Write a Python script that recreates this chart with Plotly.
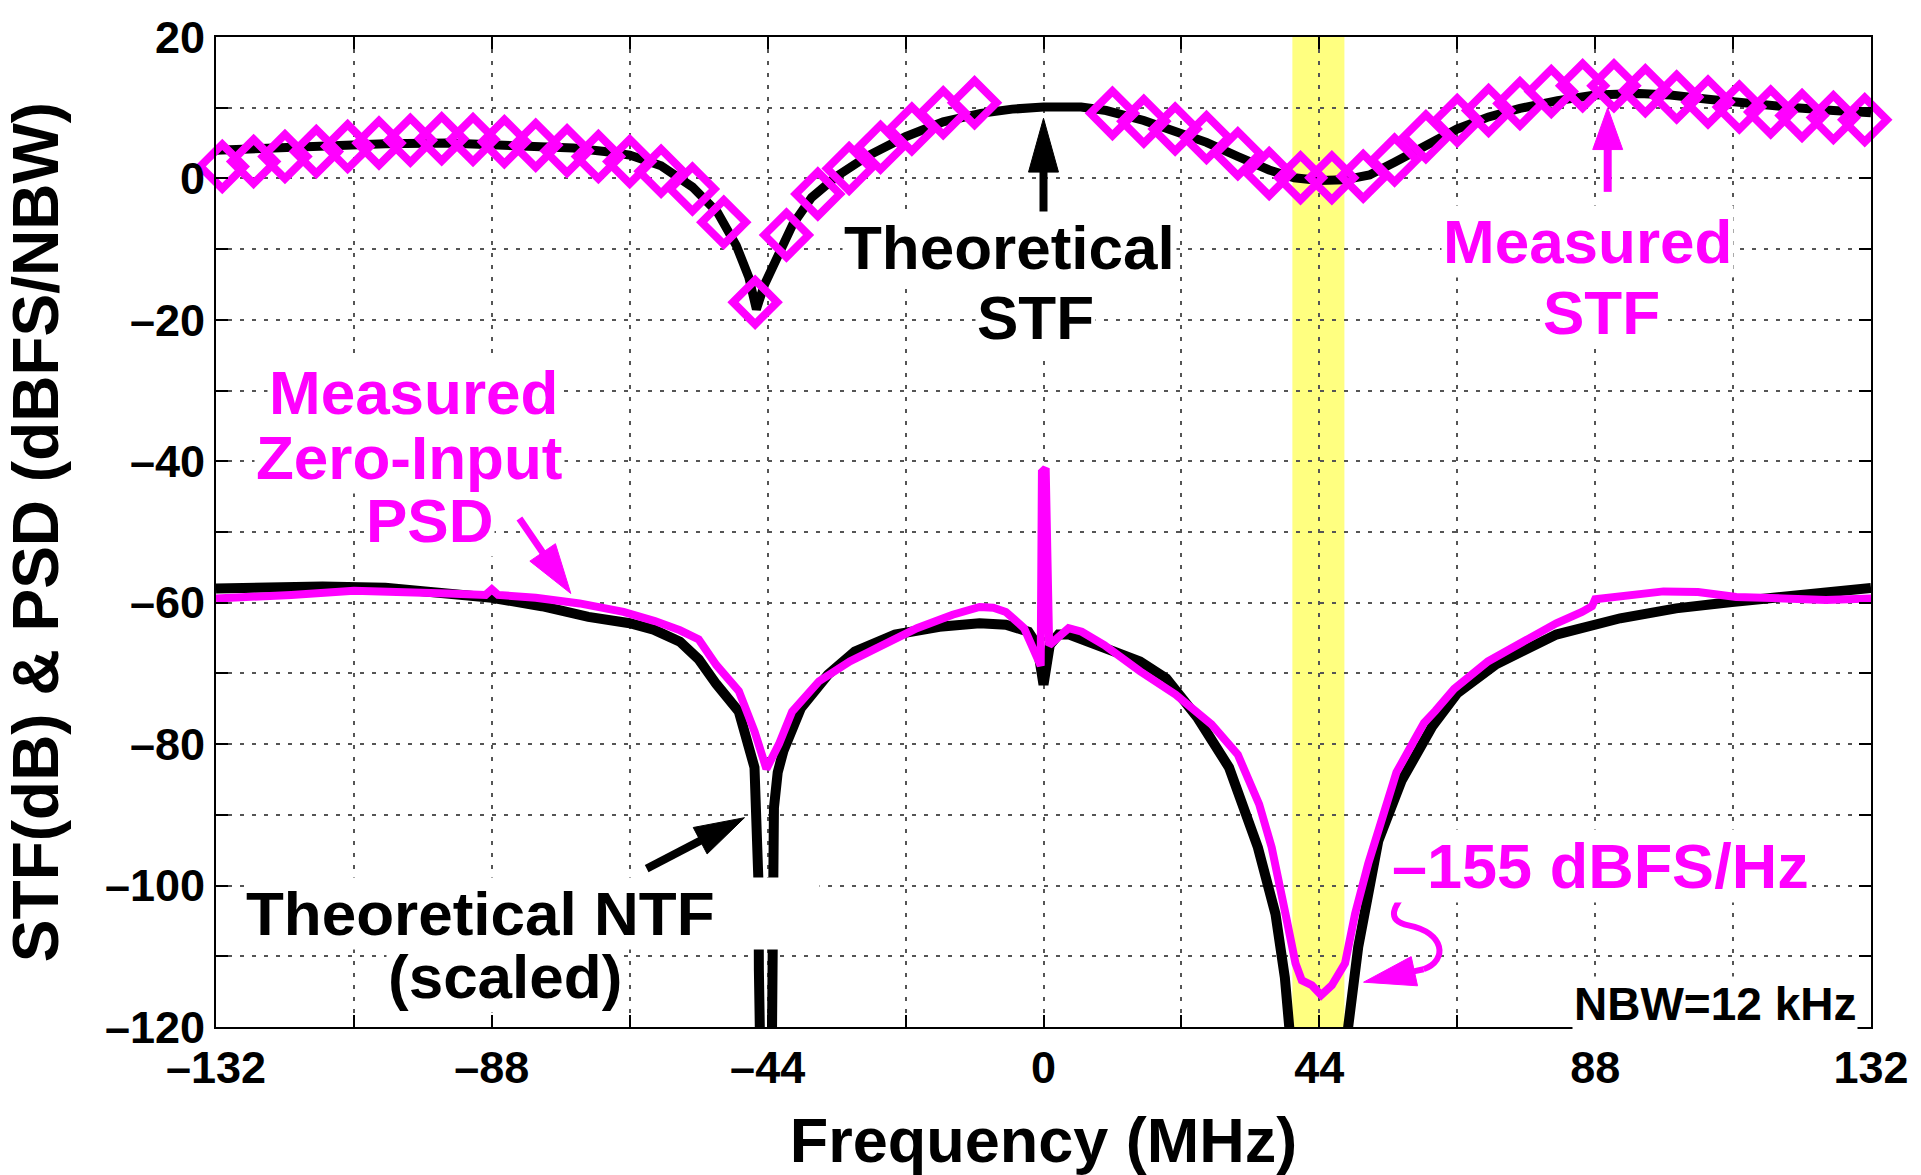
import math
import plotly.graph_objects as go

# ---------------- data ----------------
stf_theory_mhz = [-132, -120, -105, -95, -85, -75, -70, -66, -61, -56, -52, -49, -47, -45.8, -44.5,
                  -42, -40, -37, -33, -28, -22, -16, -10, -5, 0, 6, 10, 16, 21, 26, 31, 36, 40, 44,
                  48, 52, 56, 61, 66, 71, 76, 82, 88, 95, 100, 106, 112, 120, 126, 132]
stf_theory_db = [4.0, 4.5, 4.9, 5.0, 4.8, 4.3, 3.8, 3.3, 1.8, -1.2, -4.8, -9.5, -14.0, -18.5, -15.0,
                 -10.0, -6.5, -2.7, 0.3, 3.2, 5.9, 8.0, 9.2, 9.8, 10.1, 10.1, 9.6, 8.2, 6.8, 5.1, 3.1,
                 1.2, 0.1, -0.3, -0.2, 0.5, 2.3, 4.8, 7.0, 8.7, 9.9, 11.0, 11.8, 12.0, 11.8, 11.2,
                 10.6, 10.0, 9.6, 9.3]

stf_meas_mhz = [-131, -126, -121, -116, -111, -106, -101, -96, -91, -86, -81, -76, -71, -66, -61,
                -56, -51, -46, -41, -36, -31, -26, -21, -16, -11,
                11, 16, 21, 26, 31, 36, 41, 46, 51, 56, 61, 66, 71, 76, 81, 86, 91, 96, 101, 106,
                111, 116, 121, 126, 131]
stf_meas_db = [1.7, 2.4, 3.1, 3.8, 4.5, 5.0, 5.4, 5.6, 5.5, 5.2, 4.7, 3.9, 3.1, 2.4, 1.0,
               -1.5, -6.2, -17.5, -8.0, -2.2, 1.4, 4.4, 7.0, 9.3, 10.7,
               9.2, 8.1, 7.0, 5.8, 3.5, 0.7, 0.1, 0.1, 0.3, 2.6, 5.9, 8.2, 9.6, 10.6, 12.3, 13.1,
               13.1, 12.4, 11.5, 10.8, 10.1, 9.4, 8.9, 8.6, 8.3]

ntf_theory_mhz = [-132, -125, -115, -105, -95, -88, -80, -72.6, -66, -62.2, -58, -55, -52.2, -48.6,
                  -46.1, -45.6, -45.45, -45.4, -45.35, -44.35, -43.35, -43.3, -43.3, -43.25, -43.0,
                  -42.4, -41.5, -38.7, -34.4, -30.1, -23.7, -16.6, -10.2, -6.0, -2.4, -1.0, 0, 1.0,
                  2.4, 4.1, 9.7, 15.4, 19.6, 24.6, 29.6, 34.2, 37.0, 38.5, 39.2, 40, 44, 48, 48.6,
                  49.4, 50.2, 53.4, 57.1, 62.0, 66, 72.2, 81.8, 92.0, 100.9, 109.8, 121.4, 132]
ntf_theory_db = [-58.0, -57.8, -57.7, -57.9, -58.6, -59.3, -60.5, -62.0, -62.9, -63.8, -65.5, -68.0,
                 -71.5, -75.4, -83.3, -92, -100, -112, -125, -170, -125, -112, -100, -95, -89,
                 -84, -81.0, -74.9, -70.2, -66.9, -64.5, -63.4, -62.9, -63.1, -64.1, -66.0, -71.6,
                 -66.0, -64.5, -64.5, -66.4, -68.3, -70.7, -76.3, -83.3, -94.6, -104, -113, -120,
                 -135, -170, -135, -120, -113, -108.7, -93.7, -85.2, -77.5, -72.8, -68.7, -64.5,
                 -62.2, -60.8, -59.9, -58.7, -57.9]

psd_meas_mhz = [-132, -126, -120, -110, -100, -95, -89, -88, -87, -81, -74, -67, -62, -58, -55,
                -52.2, -48.6, -46.1, -44.2, -42.2, -40.1, -35.8, -30.9, -25.9, -20.2, -14.5, -10.2,
                -8.0, -6.0, -3.1, -1.3, -0.45, -0.25, 0.35, 0.9, 1.5, 4.0, 6.1, 9.7, 15.4, 21.1,
                26.8, 31.0, 34.4, 36.4, 38.6, 40.2, 41.2, 42.8, 44.3, 46.0, 48.1, 49.7, 51.8, 53.4,
                56.3, 59.3, 60.7, 62.5, 65.5, 70.9, 76.4, 81.8, 85.9, 87.5, 88.0, 94.1, 98.9, 104.4,
                110.5, 118.0, 124.8, 132]
psd_meas_db = [-59.4, -59.2, -58.9, -58.3, -58.4, -58.7, -58.9, -58.1, -58.9, -59.3, -60.1, -61.3,
               -62.6, -63.9, -65.2, -68.8, -72.5, -78.2, -83.5, -80.0, -75.4, -71.1, -68.3, -66.0,
               -63.6, -61.7, -60.6, -60.7, -61.3, -63.6, -66.9, -68.9, -41.5, -41.0, -66.0, -65.5,
               -63.6, -64.1, -66.0, -69.7, -73.0, -77.2, -81.5, -88.5, -94.6, -104.0, -111.0,
               -113.4, -114.1, -115.5, -114.1, -111.0, -104.0, -96.9, -92.3, -84.0, -79.2, -77.0,
               -75.3, -72.2, -68.3, -65.5, -62.9, -61.3, -60.5, -59.5, -58.9, -58.4, -58.5, -59.2,
               -59.4, -59.6, -59.4]

signal_band_mhz = [39.7, 48.0]

x_tick_vals = [-132, -110, -88, -66, -44, -22, 0, 22, 44, 66, 88, 110, 132]
x_tick_text = ["\u2013132", "", "\u201388", "", "\u201344", "", "0", "", "44", "", "88", "", "132"]
y_tick_vals = [-120, -110, -100, -90, -80, -70, -60, -50, -40, -30, -20, -10, 0, 10, 20]
y_tick_text = ["\u2013120", "", "\u2013100", "", "\u201380", "", "\u201360", "", "\u201340", "",
               "\u201320", "", "0", "", "20"]

# ---------------- layout constants ----------------
W, H = 1921, 1175
ML, MR, MT, MB = 216, 48, 33, 148
XR = [-132, 132]
YR = [-120, 20]
SX = (W - ML - MR) / (XR[1] - XR[0])   # px per MHz
SY = (H - MT - MB) / (YR[1] - YR[0])   # px per dB

FONT = "Liberation Sans, Arial, Helvetica, sans-serif"
BLACK = "#000000"
MAG = "#FF00FF"

shapes = [
    dict(type="rect", xref="x", yref="paper", x0=signal_band_mhz[0], x1=signal_band_mhz[1],
         y0=0, y1=1, fillcolor="#FFFF80", line=dict(width=0), layer="below"),
]


def arrow(tail, tip, color, shaft_w, head_len, head_w):
    x0, y0 = tail
    x1, y1 = tip
    dx, dy = (x1 - x0) * SX, (y1 - y0) * SY
    L = math.hypot(dx, dy)
    ux, uy = dx / L, dy / L
    bx, by = x1 - ux * head_len / SX, y1 - uy * head_len / SY
    nx, ny = -uy, ux
    p1 = (bx + nx * head_w / 2 / SX, by + ny * head_w / 2 / SY)
    p2 = (bx - nx * head_w / 2 / SX, by - ny * head_w / 2 / SY)
    shapes.append(dict(type="line", xref="x", yref="y", x0=x0, y0=y0,
                       x1=bx + ux * 3 / SX, y1=by + uy * 3 / SY,
                       line=dict(color=color, width=shaft_w), layer="above"))
    shapes.append(dict(type="path", xref="x", yref="y",
                       path=f"M{x1},{y1} L{p1[0]},{p1[1]} L{p2[0]},{p2[1]} Z",
                       fillcolor=color, line=dict(color=color, width=1), layer="above"))


arrow((0, -5.6), (0, 8.5), BLACK, 8, 54, 30)          # Theoretical STF
arrow((90, -1.9), (90, 10.0), MAG, 8, 42, 30)         # Measured STF
arrow((-83.6, -48.1), (-75.4, -58.7), MAG, 7, 50, 31)  # Measured PSD
arrow((-63.3, -97.6), (-47.7, -90.4), BLACK, 8, 50, 30)  # Theoretical NTF
# squiggle to the in-band noise floor
shapes.append(dict(type="path", xref="x", yref="y",
                   path="M57.92,-100.70 C56.0,-102.82 54.41,-104.93 58.23,-105.63 "
                        "C63.97,-106.62 64.61,-110.56 60.63,-111.83",
                   line=dict(color=MAG, width=6), layer="above"))
arrow((60.63, -111.83), (51.06, -113.66), MAG, 6, 52, 30)

NB = "\u00a0"
# (text, x, y, color, size, xanchor) -- lower lines first so upper boxes sit on top
labels = [
    ("STF", -1.3, -19.7, BLACK, 62, "center"),
    ("Theoretical", -5.35, -9.7, BLACK, 62, "center"),
    ("STF", 89.0, -18.9, MAG, 62, "center"),
    ("Measured", 86.7, -8.9, MAG, 62, "center"),
    ("PSD", -98.0, -48.4, MAG, 62, "center"),
    ("Zero-Input", -101.2, -39.5, MAG, 62, "center"),
    ("Measured", -100.5, -30.3, MAG, 62, "center"),
    ("(scaled)", -85.9, -112.9, BLACK, 62, "center"),
    ("Theoretical NTF" + NB * 6, -127.6, -103.9, BLACK, 62, "left"),
    ("\u2013155 dBFS/Hz", 88.8, -97.2, MAG, 63, "center"),
    ("NBW=12 kHz", 107.1, -116.7, BLACK, 46, "center"),
]
annotations = [
    dict(text=t, x=x, y=y, xref="x", yref="y", showarrow=False, xanchor=xa, yanchor="middle",
         font=dict(family=FONT, size=s, color=c, weight="bold"), bgcolor="white", borderpad=1)
    for (t, x, y, c, s, xa) in labels
]

fig = go.Figure()
fig.add_trace(go.Scatter(x=ntf_theory_mhz, y=ntf_theory_db, mode="lines",
                         line=dict(color=BLACK, width=10), name="Theoretical NTF (scaled)"))
fig.add_trace(go.Scatter(x=psd_meas_mhz, y=psd_meas_db, mode="lines",
                         line=dict(color=MAG, width=8), name="Measured zero-input PSD"))
fig.add_trace(go.Scatter(x=stf_theory_mhz, y=stf_theory_db, mode="lines",
                         line=dict(color=BLACK, width=9), name="Theoretical STF"))
fig.add_trace(go.Scatter(x=stf_meas_mhz, y=stf_meas_db, mode="markers", cliponaxis=False,
                         marker=dict(symbol="diamond-open", size=34, color=MAG,
                                     line=dict(color=MAG, width=8)),
                         name="Measured STF"))

axis_common = dict(showline=True, linecolor=BLACK, linewidth=2, mirror="ticks",
                   ticks="inside", ticklen=12, tickwidth=2, tickcolor=BLACK,
                   showgrid=True, gridcolor="#555555", gridwidth=1.5, griddash="4px,8px",
                   zeroline=False,
                   tickfont=dict(family=FONT, size=45, color=BLACK, weight="bold"))

fig.update_layout(
    width=W, height=H, autosize=False,
    margin=dict(l=ML, r=MR, t=MT, b=MB, pad=0),
    paper_bgcolor="white", plot_bgcolor="white",
    showlegend=False,
    xaxis=dict(range=XR, tickmode="array", tickvals=x_tick_vals, ticktext=x_tick_text,
               ticklabelstandoff=0,
               title=dict(text="Frequency (MHz)", standoff=26,
                          font=dict(family=FONT, size=63, color=BLACK, weight="bold")),
               **axis_common),
    yaxis=dict(range=YR, tickmode="array", tickvals=y_tick_vals, ticktext=y_tick_text,
               ticklabelstandoff=0,
               title=dict(text="STF(dB) &amp; PSD (dBFS/NBW)", standoff=26,
                          font=dict(family=FONT, size=64, color=BLACK, weight="bold")),
               **axis_common),
    shapes=shapes,
    annotations=annotations,
)

fig.write_html("out.html")
